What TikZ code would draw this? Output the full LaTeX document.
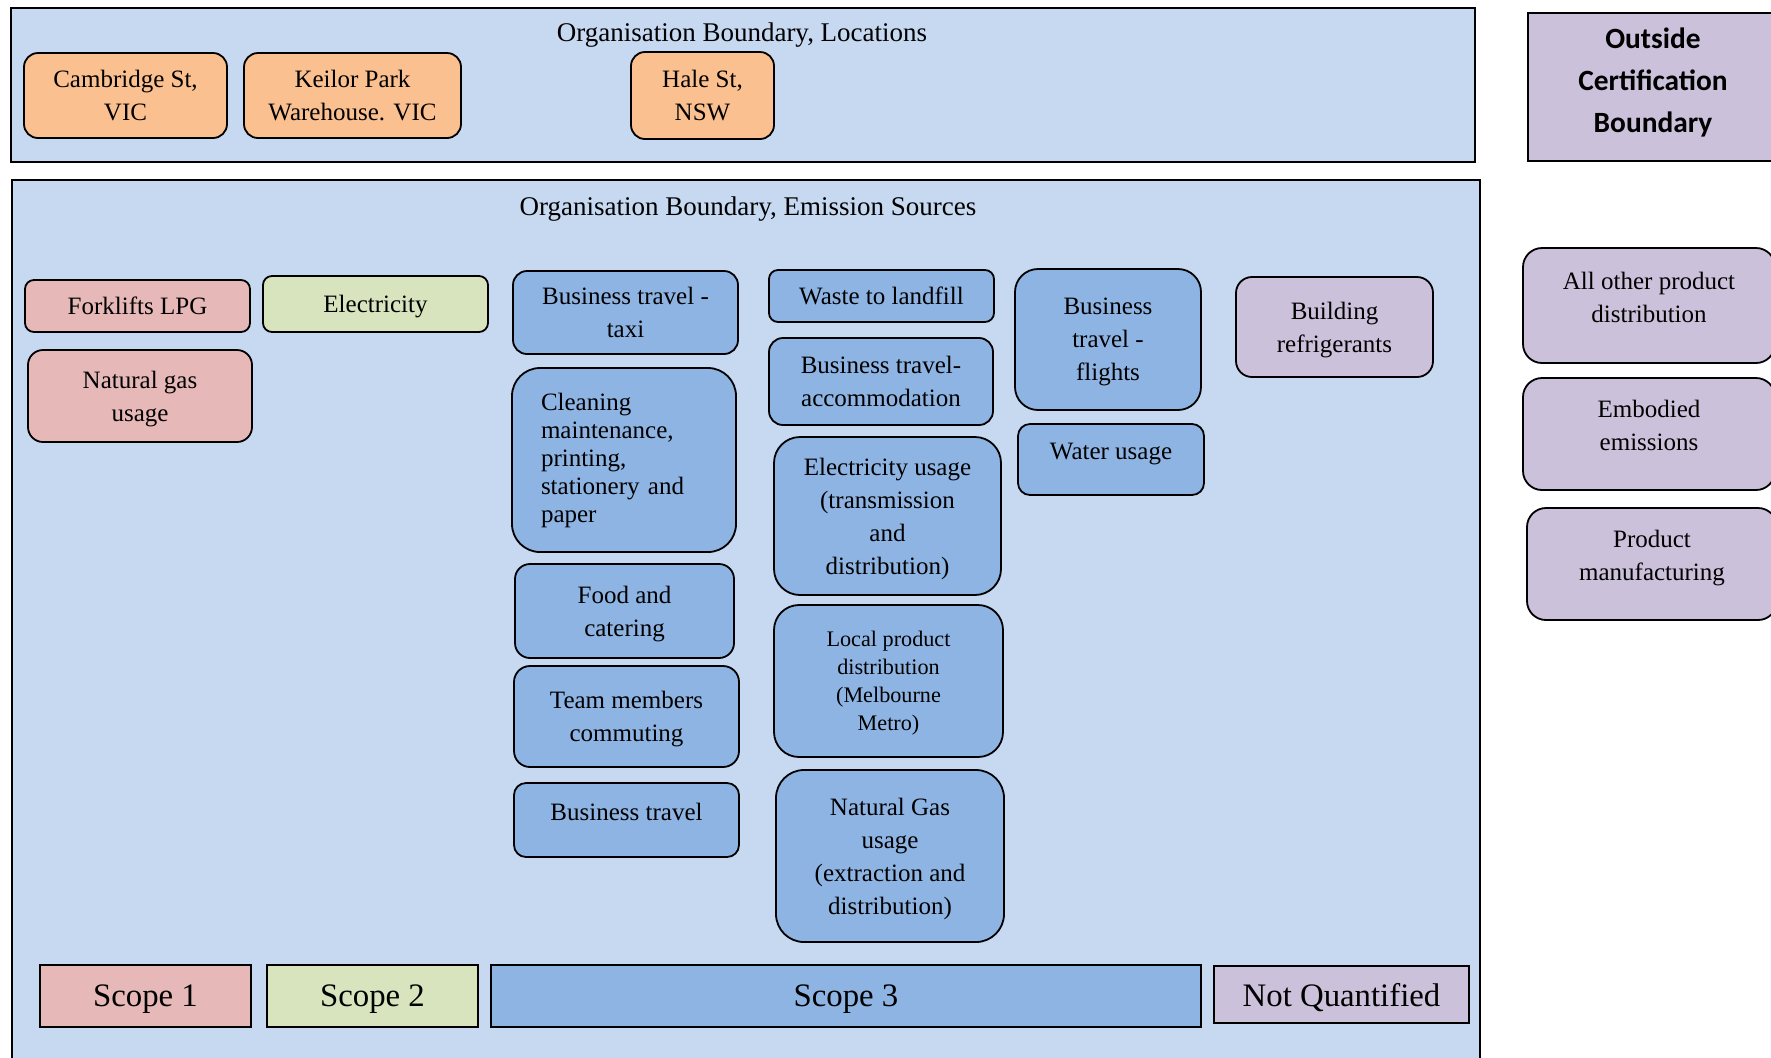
\documentclass[tikz,border=0pt]{standalone}
\usepackage{fontspec}
\setmainfont{Liberation Serif}
\newfontfamily\calibri{Carlito}
\definecolor{bgblue}{HTML}{C6D9F1}
\definecolor{siteorange}{HTML}{FAC090}
\definecolor{scopepink}{HTML}{E6B9B8}
\definecolor{scopegreen}{HTML}{D7E4BD}
\definecolor{scopeblue}{HTML}{8EB4E3}
\definecolor{nqpurple}{HTML}{CCC1DA}
\begin{document}
\begin{tikzpicture}[x=0.5pt,y=-0.5pt,
  boundary/.style={rectangle,draw,line width=1pt,fill=bgblue,anchor=north west,inner sep=0.,outer sep=0.},
  title/.style={font=\fontsize{13.5}{16}\selectfont,inner sep=0.},
  src/.style={rectangle,draw,line width=0.9pt,rounded corners=#1,anchor=north west,inner sep=0.,outer sep=0.,align=center,text depth=0pt,font=\fontsize{12.5}{16.5}\selectfont},
  src/.default=7pt,
  lift/.style={text depth=#1},
  scopebox/.style={rectangle,draw,line width=0.8pt,anchor=north west,inner sep=0.,outer sep=0.,text depth=0pt,font=\fontsize{16.4}{20}\selectfont}]%
  \clip (0,0) rectangle (1771,1057);
  % locations
  \node[boundary,minimum width=732pt,minimum height=77pt] (locations) at (11,8) {};
  \node[title] (loctitle) at (742,35) {Organisation Boundary, Locations};
  \node[src,fill=siteorange,minimum width=101.5pt,minimum height=42.5pt] (cambridge) at (24,53) {Cambridge St,\\VIC};
  \node[src,fill=siteorange,minimum width=108.5pt,minimum height=42.5pt] (keilor) at (244,53) {Keilor Park\\Warehouse. VIC};
  \node[src,fill=siteorange,minimum width=71.5pt,minimum height=43.5pt] (hale) at (631,52) {Hale St,\\NSW};
  \node[rectangle,draw,line width=1pt,fill=nqpurple,anchor=north west,minimum width=125pt,minimum height=74pt,align=center,lift=6.5pt,font=\calibri\bfseries\fontsize{14.7}{21}\selectfont] (outside) at (1527,12) {Outside\\Certification\\Boundary};
  % emission sources
  \node[boundary,minimum width=734pt,minimum height=445pt] (emissions) at (12,180) {};
  \node[title] (emtitle) at (748,209) {Organisation Boundary, Emission Sources};
  % scope 1 and 2
  \node[src=4.5pt,fill=scopepink,minimum width=112.5pt,minimum height=26pt] (forklifts) at (25,280) {Forklifts LPG};
  \node[src=7.5pt,fill=scopepink,minimum width=112pt,minimum height=46pt] (natgas) at (28,350) {Natural gas\\usage};
  \node[src=4.5pt,fill=scopegreen,minimum width=112.5pt,minimum height=28pt] (electricity) at (263,276) {Electricity};
  % scope 3
  \node[src,fill=scopeblue,minimum width=112.5pt,minimum height=41.5pt] (taxi) at (513,271) {Business travel -\\taxi};
  \node[src=14pt,fill=scopeblue,minimum width=112pt,minimum height=92pt,text width=83pt,align=left,text depth={},font=\fontsize{12.5}{14}\selectfont] (cleaning) at (512,368) {Cleaning\\maintenance,\\printing,\\stationery and\\paper};
  \node[src=7.5pt,fill=scopeblue,minimum width=109.5pt,minimum height=47pt] (food) at (515,564) {Food and\\catering};
  \node[src=8pt,fill=scopeblue,minimum width=112.5pt,minimum height=50.5pt] (commuting) at (514,666) {Team members\\commuting};
  \node[src=6pt,fill=scopeblue,minimum width=112.5pt,minimum height=37pt,lift=8.5pt] (travel) at (514,783) {Business travel};
  \node[src=4.5pt,fill=scopeblue,minimum width=112.5pt,minimum height=26pt] (waste) at (769,270) {Waste to landfill};
  \node[src,fill=scopeblue,minimum width=112pt,minimum height=43.5pt] (accommodation) at (769,338) {Business travel-\\accommodation};
  \node[src=13pt,fill=scopeblue,minimum width=113.5pt,minimum height=79pt] (elecusage) at (774,437) {Electricity usage\\(transmission\\and\\distribution)};
  \node[src=12.5pt,fill=scopeblue,minimum width=114.5pt,minimum height=76pt,font=\fontsize{11.1}{14}\selectfont] (localdist) at (774,605) {Local product\\distribution\\(Melbourne\\Metro)};
  \node[src=14pt,fill=scopeblue,minimum width=114pt,minimum height=86pt] (gasusage) at (776,770) {Natural Gas\\usage\\(extraction and\\distribution)};
  \node[src=11.5pt,fill=scopeblue,minimum width=93pt,minimum height=70.5pt] (flights) at (1015,269) {Business\\travel -\\flights};
  \node[src=6pt,fill=scopeblue,minimum width=93pt,minimum height=35.5pt,lift=8.5pt] (water) at (1018,424) {Water usage};
  % not quantified
  \node[src=8pt,fill=nqpurple,minimum width=98.5pt,minimum height=50pt] (refrigerants) at (1236,277) {Building\\refrigerants};
  \node[src=9.5pt,fill=nqpurple,minimum width=126pt,minimum height=57.5pt,lift=8.5pt] (otherdist) at (1523,248) {All other product\\distribution};
  \node[src=9.5pt,fill=nqpurple,minimum width=126pt,minimum height=56pt,lift=8.5pt] (embodied) at (1523,378) {Embodied\\emissions};
  \node[src=9.5pt,fill=nqpurple,minimum width=125pt,minimum height=56pt,lift=8.5pt] (manufacturing) at (1527,508) {Product\\manufacturing};
  % legend
  \node[scopebox,fill=scopepink,minimum width=105.5pt,minimum height=31pt] (scope1) at (40,965) {Scope 1};
  \node[scopebox,fill=scopegreen,minimum width=105.5pt,minimum height=31pt] (scope2) at (267,965) {Scope 2};
  \node[scopebox,fill=scopeblue,minimum width=355pt,minimum height=31pt] (scope3) at (491,965) {Scope 3};
  \node[scopebox,fill=nqpurple,minimum width=127.5pt,minimum height=28.5pt] (notquant) at (1214,966) {Not Quantified};
\end{tikzpicture}
\end{document}
